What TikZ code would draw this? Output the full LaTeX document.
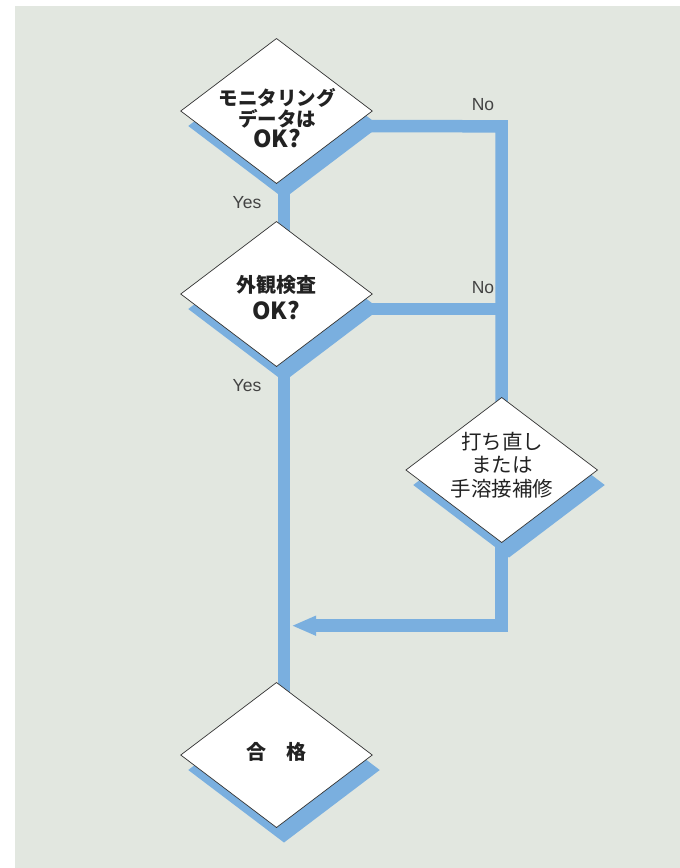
\documentclass[tikz,border=0pt]{standalone}
\usepackage{fontspec}
\setmainfont{Liberation Sans}
\newfontfamily\jp{Noto Sans CJK JP}
\usetikzlibrary{shapes.geometric,arrows.meta}
\definecolor{bg}{HTML}{E2E7E0}
\definecolor{flow}{HTML}{7AAFDF}
\definecolor{edgec}{HTML}{333333}
\definecolor{ink}{HTML}{222222}
\begin{document}
\begin{tikzpicture}[x=1pt,y=-1pt,
  dia/.style={diamond, minimum width=191.5pt, minimum height=145pt, inner sep=0pt, outer sep=0pt},
  box/.style={dia, fill=white, draw=edgec, line width=0.7pt},
  shade/.style={dia, fill=flow},
  flowline/.style={draw=flow, line width=12.5pt, line join=miter},
  lbl/.style={font=\fontsize{17.5}{19}\selectfont, text=ink!85, inner sep=0pt},
  jtext/.style={align=center, text=ink, inner sep=0pt}
]
\useasboundingbox (0,0) rectangle (680,868);
\fill[bg] (15,6) rectangle (680,868);

% shadows
\node[shade] (s1) at (284,126) {};
\node[shade] (s2) at (284,309) {};
\node[shade] (s3) at (509,485) {};
\node[shade] (s4) at (284,770) {};

% diamonds positions (for connectors)
\coordinate (d1c) at (276.5,111);
\coordinate (d3c) at (501.7,470);
\coordinate (c1) at (501.7,126.3);
\coordinate (c2) at (501.7,625.7);
\coordinate (back) at (292.7,625.7);

% connectors
\draw[flowline] (s1.center) -- (s2.center) -- (s4.center);
\draw[flowline] (s1.center) -- (c1) -- (d3c);
\draw[flowline] (s2.center) -- (s2.center -| c1);
\draw[flowline, -{Triangle[length=23.5pt,width=20.5pt,line width=0pt]}] (d3c) -- (c2) -- (back);

% diamonds
\node[box] (d1) at (d1c) {};
\node[box] (d2) at (276.5,294) {};
\node[box] (d3) at (d3c) {};
\node[box] (d4) at (276.5,755) {};

% texts
\node[jtext, font=\jp\bfseries\fontsize{19.5}{21}\selectfont] (t1) at (277,118.5)
  {モニタリング\\データは\\{\fontsize{23.5}{21}\selectfont OK?}};
\node[jtext, font=\jp\bfseries\fontsize{20}{27.5}\selectfont] (t2) at (276,297.5)
  {外観検査\\{\fontsize{23.5}{27.5}\selectfont OK?}};
\node[jtext, font=\jp\fontsize{20.5}{23.5}\selectfont] (t3) at (502,465)
  {打ち直し\\または\\手溶接補修};
\node[jtext, font=\jp\bfseries\fontsize{20}{24}\selectfont] (t4) at (276,751.7) {合　格};

% labels
\node[lbl] (y1) at (247,203) {Yes};
\node[lbl] (y2) at (247,386) {Yes};
\node[lbl] (n1) at (483,105) {No};
\node[lbl] (n2) at (483,288) {No};
\end{tikzpicture}
\end{document}
